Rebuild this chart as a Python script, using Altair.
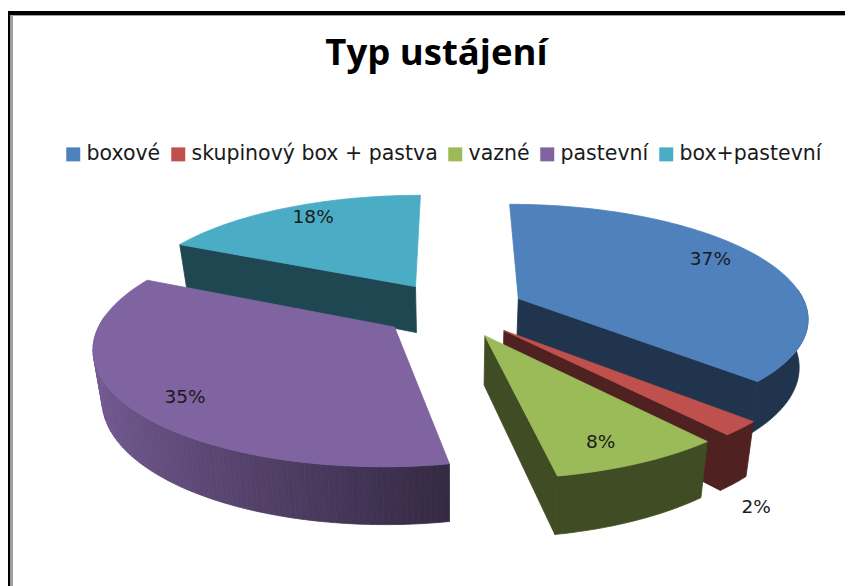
import math
import altair as alt
import pandas as pd

CATEGORIES = ["boxové", "skupinový box + pastva", "vazné", "pastevní", "box+pastevní"]
VALUES = [37, 2, 8, 35, 18]
COLORS = ["#4F81BD", "#C0504D", "#9BBB59", "#8064A2", "#4BACC6"]
TITLE = "Typ ustájení"
# where each percentage sits on its slice: distance from the slice tip, and bearing
LABEL_RADIUS = [0.825, 1.368, 0.84, 0.83, 0.85]
LABEL_BEARING = [62.0, 151.5, 157.2, 229.4, 330.3]

# 3D pie camera
CX, CY, A, B, K, EXPLODE, DEPTH, SHRINK = 453, 309.5, 289, 112, 0.155, 0.25, 47.5, 0.025
W, H = 837, 578
PAINT_ORDER = [4, 0, 1, 2, 3]


def project(u, v, low=False):
    s = 1 / (1 - K * v)
    x = CX + A * u * s
    y = CY + B * v * s
    if low:
        x = CX + (x - CX) * (1 - SHRINK)
        y = y + DEPTH * s
    return x, y


def shade(hex_color, f):
    r, g, b = (int(hex_color[i:i + 2], 16) for i in (1, 3, 5))
    return "#%02x%02x%02x" % (round(r * f), round(g * f), round(b * f))


rows = []
poly_id = 0


def add_poly(points, color):
    global poly_id
    poly_id += 1
    for i, (x, y) in enumerate(points + points[:1]):
        rows.append({"poly": poly_id, "i": i, "x": x, "y": y, "color": color})


total = sum(VALUES)
bounds = []
acc = 0
for v in VALUES:
    bounds.append((acc / total * 360, (acc + v) / total * 360))
    acc += v


def tip(idx):
    a0, a1 = bounds[idx]
    m = math.radians((a0 + a1) / 2)
    return EXPLODE * math.sin(m), -EXPLODE * math.cos(m)


def rim_shade(sn):
    return 0.41 + 0.5 * min(1.0, max(0.0, (0.2 - sn) / 1.2))


def add_strip(points, color):
    top = [project(p[0], p[1]) for p in points]
    low = [project(p[0], p[1], True) for p in points]
    add_poly(top + low[::-1], color)


for idx in PAINT_ORDER:
    a0, a1 = bounds[idx]
    base = COLORS[idx]
    tu, tv = tip(idx)
    n = max(4, int(a1 - a0))
    rim = []
    for j in range(n + 1):
        t = math.radians(a0 + (a1 - a0) * j / n)
        rim.append((tu + math.sin(t), tv - math.cos(t), t))
    # flat cut faces that look toward the viewer
    if -math.sin(rim[0][2]) > 0.05:
        add_poly([project(tu, tv), project(rim[0][0], rim[0][1]), project(rim[0][0], rim[0][1], True), project(tu, tv, True)], shade(base, 0.41))
    if math.sin(rim[-1][2]) > 0.05:
        add_poly([project(tu, tv), project(rim[-1][0], rim[-1][1]), project(rim[-1][0], rim[-1][1], True), project(tu, tv, True)], shade(base, 0.41))
    # strips of the outer wall facing the viewer, joined while their shade stays the same
    front = [r for r in rim if math.cos(r[2]) <= 0.1]
    if len(front) > 1:
        cur = [front[0]]
        cur_c = shade(base, rim_shade(math.sin(front[0][2])))
        for q in front[1:]:
            c = shade(base, rim_shade(math.sin(q[2])))
            cur.append(q)
            if c != cur_c:
                add_strip(cur, cur_c)
                cur, cur_c = [q], c
        if len(cur) > 1:
            add_strip(cur, cur_c)
    add_poly([project(tu, tv)] + [project(r[0], r[1]) for r in rim], base)

polys = pd.DataFrame(rows)

labels = []
for idx, val in enumerate(VALUES):
    tu, tv = tip(idx)
    b = math.radians(LABEL_BEARING[idx])
    x, y = project(tu + LABEL_RADIUS[idx] * math.sin(b), tv - LABEL_RADIUS[idx] * math.cos(b))
    labels.append({"x": x, "y": y, "t": f"{val}%"})

xs = alt.Scale(domain=[8, 8 + W], range=[0, W], nice=False, zero=False)
ys = alt.Scale(domain=[8 + H, 8], range=[H, 0], nice=False, zero=False)
X = lambda f="x": alt.X(f"{f}:Q", scale=xs, axis=None)
Y = lambda f="y": alt.Y(f"{f}:Q", scale=ys, axis=None)

frame = pd.DataFrame([
    {"x": 8, "x2": 10, "y": 11, "y2": 586, "c": "#000000"},
    {"x": 8, "x2": 845, "y": 11, "y2": 15, "c": "#000000"},
    {"x": 10, "x2": 13, "y": 15, "y2": 586, "c": "#a0a0a0"},
    {"x": 10, "x2": 845, "y": 15, "y2": 16, "c": "#a0a0a0"},
])
border = alt.Chart(frame).mark_rect().encode(
    x=X(), x2="x2:Q", y=Y(), y2="y2:Q", fill=alt.Fill("c:N", scale=None)
)

pie = alt.Chart(polys).mark_line(strokeWidth=0.8, strokeJoin="round").encode(
    x=X(), y=Y(), detail="poly:N", order="i:Q",
    fill=alt.Fill("color:N", scale=None),
    stroke=alt.Stroke("color:N", scale=None),
)

text = alt.Chart(pd.DataFrame(labels)).mark_text(
    font="DejaVu Sans", fontSize=18.5, color="#1a1a1a", baseline="middle", align="center"
).encode(x=X(), y=Y(), text="t:N")

legend = alt.Chart(pd.DataFrame({"cat": CATEGORIES})).mark_square(size=0).encode(
    color=alt.Color(
        "cat:N",
        sort=CATEGORIES,
        scale=alt.Scale(domain=CATEGORIES, range=COLORS),
        legend=alt.Legend(
            title=None, orient="none", direction="horizontal", columns=5,
            legendX=55, legendY=136, padding=0,
            symbolType="square", symbolSize=196, symbolStrokeWidth=0, symbolOpacity=1,
            labelFont="DejaVu Sans", labelFontSize=20.5, labelColor="#1a1a1a",
            labelOffset=3, columnPadding=7, labelLimit=400,
        ),
    )
)

chart = alt.layer(border, pie, text, legend).properties(
    width=W, height=H, padding=0, autosize=alt.AutoSizeParams(type="none"),
    title=alt.TitleParams(
        TITLE, font="Open Sans", fontSize=36.5, fontWeight="bold", color="#000000",
        anchor="middle", offset=0, dy=93, baseline="alphabetic", dx=10,
    ),
).configure_view(stroke=None)

chart.save("out.html", embed_options={"renderer": "svg", "actions": False})
